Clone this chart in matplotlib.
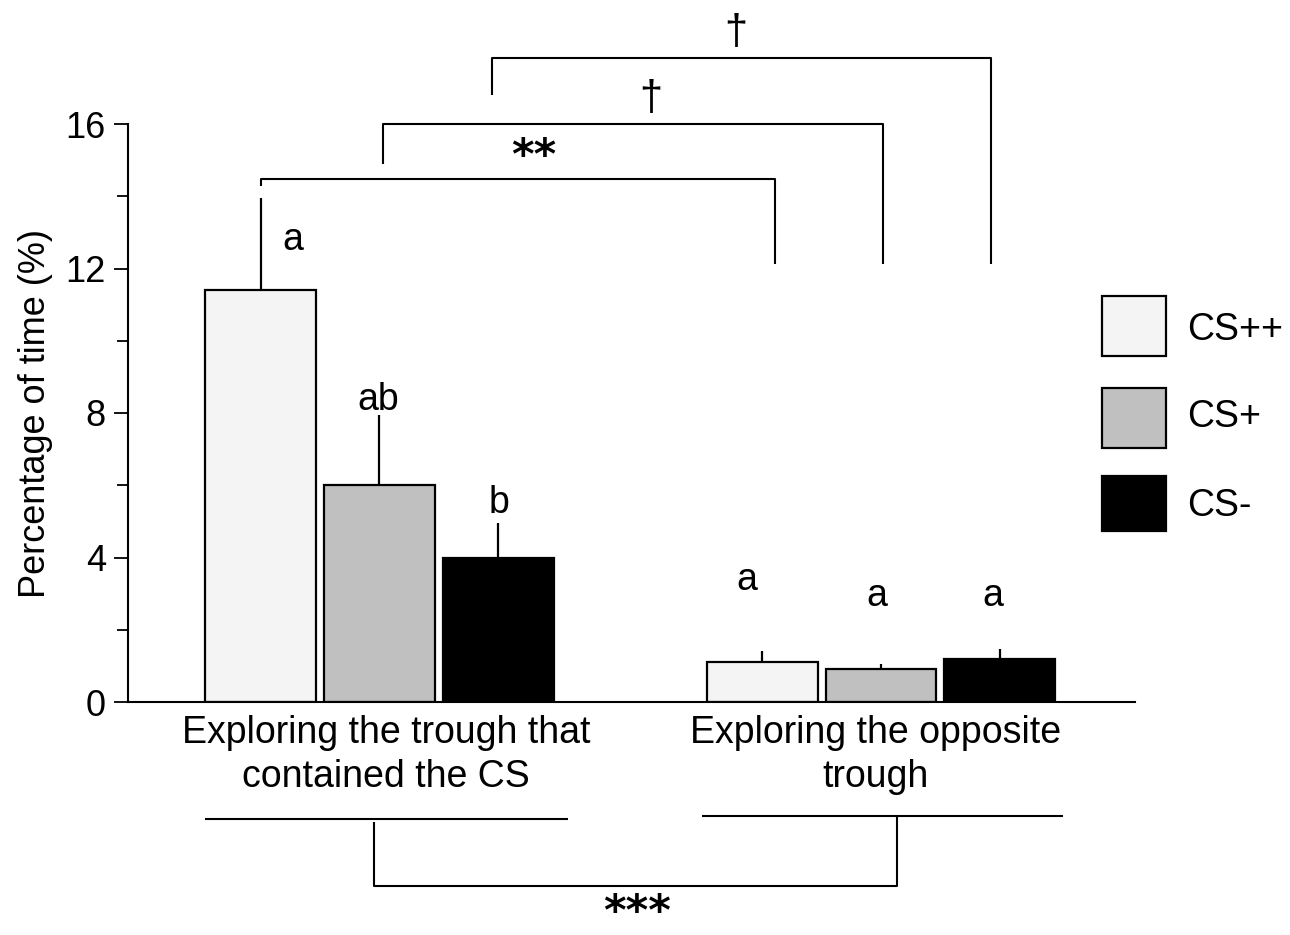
import matplotlib
matplotlib.use("Agg")
import matplotlib.pyplot as plt
from matplotlib.patches import Rectangle
import numpy as np

plt.rcParams['font.family'] = ['Liberation Sans', 'DejaVu Sans']

groups = ["Exploring the trough that\ncontained the CS", "Exploring the opposite\ntrough"]
series = ["CS++", "CS+", "CS-"]
values = {
    "CS++": [11.4, 1.1],
    "CS+": [6.0, 0.9],
    "CS-": [4.0, 1.2],
}
errors = {
    "CS++": [2.55, 0.32],
    "CS+": [1.95, 0.15],
    "CS-": [0.95, 0.27],
}
letters = {
    "CS++": ["a", "a"],
    "CS+": ["ab", "a"],
    "CS-": ["b", "a"],
}
colors = {"CS++": "#f4f4f4", "CS+": "#c0c0c0", "CS-": "#000000"}
yticks = [0, 4, 8, 12, 16]

W, H = 1290, 935
fig = plt.figure(figsize=(W / 100, H / 100), dpi=100)
ax = fig.add_axes([128 / W, (H - 702) / H, (1135 - 128) / W, (702 - 124) / H])

spacing = 0.237
width = 0.221
gx = np.arange(len(groups))
for i, s in enumerate(series):
    xs = gx + (i - 1) * spacing
    ax.bar(xs, values[s], width=width, color=colors[s], edgecolor='black',
           linewidth=1.6, zorder=2)
    for x, v, e in zip(xs, values[s], errors[s]):
        ax.plot([x, x], [v, v + e], color='black', lw=1.6, zorder=1,
                solid_capstyle='butt')

# letter annotations (baseline positions)
letter_pos = {
    "CS++": [(-0.1725, 12.51), (0.733, 3.10)],
    "CS+": [(-0.003, 8.08), (0.992, 2.66)],
    "CS-": [(0.238, 5.23), (1.223, 2.66)],
}
for s in series:
    for (x, y), t in zip(letter_pos[s], letters[s]):
        ax.text(x, y, t, ha='center', va='baseline', fontsize=27)

ax.set_xlim(-0.5015, 1.5065)
ax.set_ylim(0, 16)
ax.set_yticks(yticks)
ax.set_yticks([2, 6, 10, 14], minor=True)
ax.tick_params(axis='y', which='major', length=10, width=1.3, labelsize=26, pad=6)
ax.tick_params(axis='y', which='minor', length=8, width=1.3)
ax.set_xticks([])
for sp in ['top', 'right']:
    ax.spines[sp].set_visible(False)
ax.spines['left'].set_linewidth(1.5)
ax.spines['bottom'].set_linewidth(1.5)
ax.set_ylabel("Percentage of time (%)", fontsize=26, labelpad=9)

# group labels (line by line)
line_y = [-1.135, -2.353]
for x, g in zip([0.013, 0.99], groups):
    for ly, line in zip(line_y, g.split("\n")):
        ax.text(x, ly, line, ha='center', va='baseline', fontsize=27,
                clip_on=False)

lk = dict(color='black', lw=1.5, clip_on=False, solid_capstyle='butt')
# top brackets
ax.plot([-0.2363, -0.2363, 0.7886, 0.7886], [14.28, 14.48, 14.48, 12.12], **lk)
ax.plot([0.007, 0.007, 1.004, 1.004], [14.89, 16.0, 16.0, 12.12], **lk)
ax.plot([0.2243, 0.2243, 1.2193, 1.2193], [16.80, 17.83, 17.83, 12.12], **lk)
star = dict(ha='center', fontsize=31, fontweight='bold',
            family='DejaVu Sans', clip_on=False)
ax.text(0.307, 15.08, "**", va='center', **star)
ax.text(0.541, 16.69, "\u2020", ha='center', va='center', fontsize=30, clip_on=False)
ax.text(0.711, 18.52, "\u2020", ha='center', va='center', fontsize=30, clip_on=False)

# bottom bracket
ax.plot([-0.348, 0.376], [-3.24, -3.24], **lk)
ax.plot([0.643, 1.363], [-3.16, -3.16], **lk)
ax.plot([-0.011, -0.011, 1.032, 1.032], [-3.32, -5.09, -5.09, -3.16], **lk)
ax.text(0.5135, -6.42, "***", va='bottom', **star)

# legend (manual)
leg_y = [326, 418, 503]
leg_h = [60, 60, 55]
leg_base = [340, 427, 516]
for s, yc, h, yb in zip(series, leg_y, leg_h, leg_base):
    fig.patches.append(Rectangle((1102 / W, (H - yc - h / 2) / H), 64 / W, h / H,
                                 transform=fig.transFigure, facecolor=colors[s],
                                 edgecolor='black', linewidth=1.6))
    fig.text(1187 / W, (H - yb) / H, s, ha='left', va='baseline', fontsize=27)

fig.savefig("out.png", dpi=100)
